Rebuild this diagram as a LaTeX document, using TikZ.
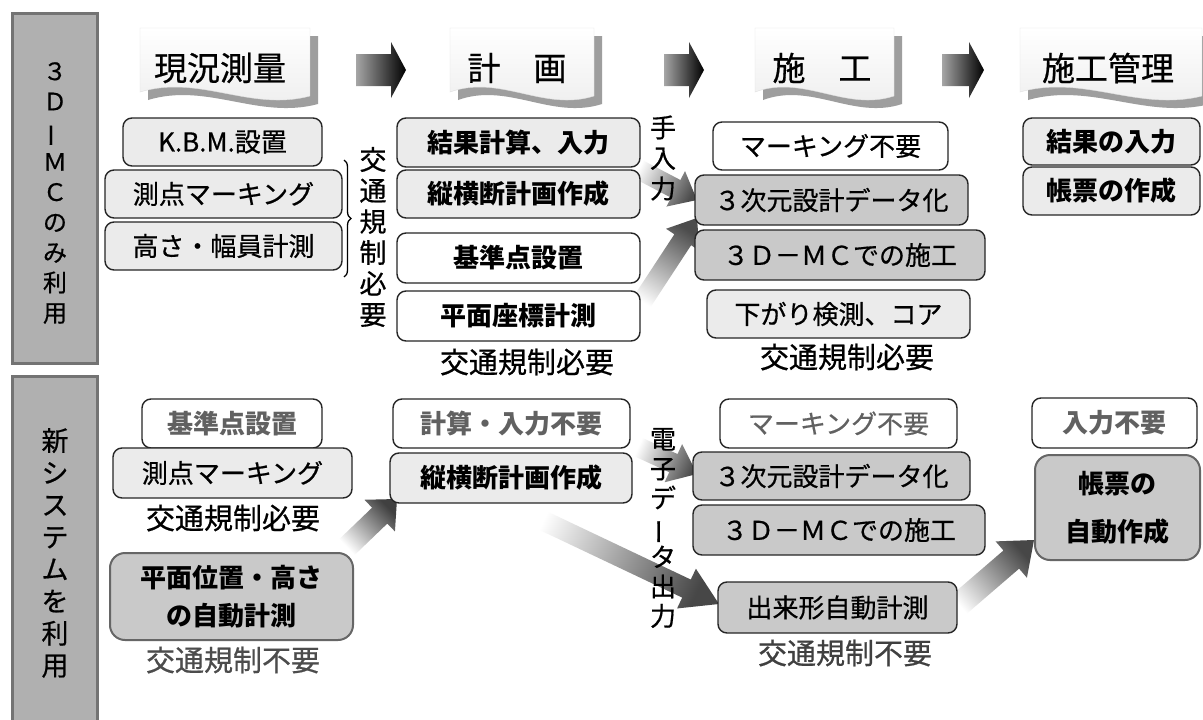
\documentclass[tikz,border=0pt]{standalone}
\usepackage{fontspec}
\setmainfont{Noto Sans CJK JP}[UprightFeatures={FakeBold=0.6}]
\usepackage{graphicx}
\usetikzlibrary{calc,decorations.pathreplacing}

\newcommand{\vbar}{\rotatebox[origin=c]{90}{ー}}
% gradient arrow: #1 start, #2 end, #3 half body, #4 half head, #5 head length, #6 shading angle, #7 start colour, #8 end colour
\newcommand{\garrow}[8]{%
  \coordinate (hb) at ($(#2)!#5!(#1)$);
  \path[left color=#7, right color=#8, shading angle=#6]
    ($(#1)!#3!90:(#2)$) -- ($(hb)!#3!90:(#2)$) -- ($(hb)!#4!90:(#2)$) -- (#2)
    -- ($(hb)!#4!-90:(#2)$) -- ($(hb)!#3!-90:(#2)$) -- ($(#1)!#3!-90:(#2)$) -- cycle;}
% banner: #1 left x, #2 right x (shadow edge)
\newcommand{\banner}[2]{%
  \pgfmathsetmacro{\bw}{#2-#1-8}
  \fill[black!38] ({#1+8},36) -- (#2,36) -- (#2,104)
     .. controls ({#2-0.35*\bw},120) and ({#1+8+0.35*\bw},82) .. ({#1+8},100) -- cycle;
  \path[top color=white, bottom color=black!7, draw=black!12]
     (#1,28) -- ({#2-8},28) -- ({#2-8},96)
     .. controls ({#2-8-0.35*\bw},112) and ({#1+0.35*\bw},74) .. (#1,92) -- cycle;}

\tikzset{
  box/.style={draw=black!85, line width=1.4pt, rounded corners=9pt, inner sep=0pt,
              align=center, font=\fontsize{26}{30}\selectfont},
  lbox/.style={box, fill=black!8},
  wbox/.style={box, fill=white},
  gbox/.style={box, fill=black!21},
  gtext/.style={text=black!62},
  lbl/.style={font=\fontsize{29}{31}\selectfont, inner sep=0pt},
  vtext/.style={align=center, inner sep=0pt},
  panel/.style={draw=black!55, fill=black!31, line width=3pt},
  hdr/.style={font=\fontsize{33}{34}\selectfont, inner sep=0pt},
}

\begin{document}
\begin{tikzpicture}[x=1pt,y=-1pt]
\useasboundingbox (0,0) rectangle (1203,720);
\fill[white] (0,0) rectangle (1203,720);

% side panels
\draw[panel] (12,13) rectangle (97,363);
\draw[panel] (12,376) rectangle (97,730);
\node[vtext, font=\fontsize{24}{30.2}\selectfont] (p1t) at (55,193)
  {３\\Ｄ\\\vbar\\Ｍ\\Ｃ\\の\\み\\利\\用};
\node[vtext, font=\fontsize{27}{32.1}\selectfont] (p2t) at (55,553)
  {新\\シ\\ス\\テ\\ム\\を\\利\\用};

% header banners
\banner{140}{318}
\banner{450}{602}
\banner{755}{902}
\banner{1020}{1210}
\node[hdr] (h1) at (220,68) {現況測量};
\node[hdr] (h2) at (517,68) {計　画};
\node[hdr] (h3) at (822,68) {施　工};
\node[hdr] (h4) at (1108,68) {施工管理};

% header arrows
\coordinate (ha1s) at (356,70); \coordinate (ha1e) at (406,70);
\coordinate (ha2s) at (664,70); \coordinate (ha2e) at (704,70);
\coordinate (ha3s) at (942,70); \coordinate (ha3e) at (984,70);
\garrow{ha1s}{ha1e}{16pt}{28pt}{15pt}{90}{black!35}{black}
\garrow{ha2s}{ha2e}{16pt}{28pt}{15pt}{90}{black!35}{black}
\garrow{ha3s}{ha3e}{16pt}{28pt}{15pt}{90}{black!35}{black}

% diagonal arrows
\coordinate (a1s) at (636,168); \coordinate (a1e) at (697,200);
\coordinate (a2s) at (638,308); \coordinate (a2e) at (697,218);
\coordinate (a3s) at (346,548); \coordinate (a3e) at (397,499);
\coordinate (a4s) at (636,446); \coordinate (a4e) at (697,474);
\coordinate (a5s) at (525,512); \coordinate (a5e) at (719,604);
\coordinate (a6s) at (955,608); \coordinate (a6e) at (1034,540);
\garrow{a1s}{a1e}{10pt}{20pt}{24pt}{62}{white}{black!70}
\garrow{a2s}{a2e}{10pt}{20pt}{26pt}{147}{white}{black!70}
\garrow{a3s}{a3e}{11pt}{22pt}{24pt}{134}{white}{black!75}
\garrow{a4s}{a4e}{10pt}{21pt}{26pt}{66}{white}{black!70}
\garrow{a5s}{a5e}{10pt}{22pt}{36pt}{65}{white}{black!72}
\garrow{a6s}{a6e}{12pt}{24pt}{30pt}{131}{white}{black!72}

% top row, column 1
\node[lbox, minimum width=199pt, minimum height=48pt] (kbm) at (222.5,142) {K.B.M.設置};
\node[lbox, minimum width=237pt, minimum height=48pt] (sok1) at (223.5,194) {測点マーキング};
\node[lbox, minimum width=237pt, minimum height=48pt] (tak) at (223.5,246) {高さ・幅員計測};
\coordinate (br1) at (344,160); \coordinate (br2) at (344,277);
\draw[decorate, decoration={brace, amplitude=7pt}, line width=1.3pt] (br1) -- (br2);
\node[vtext, font=\fontsize{27}{31}\selectfont] (kv1) at (373,237) {交\\通\\規\\制\\必\\要};

% top row, column 2
\node[lbox, minimum width=243pt, minimum height=49pt] (kek) at (518.5,142.5) {\bfseries 結果計算、入力};
\node[lbox, minimum width=243pt, minimum height=48pt] (jun1) at (518.5,194) {\bfseries 縦横断計画作成};
\node[wbox, minimum width=243pt, minimum height=50pt] (kij1) at (518.5,258) {\bfseries 基準点設置};
\node[wbox, minimum width=243pt, minimum height=50pt] (hei1) at (518.5,316) {\bfseries 平面座標計測};
\node[lbl] (kl2) at (527,362) {交通規制必要};
\node[vtext, font=\fontsize{26}{30.5}\selectfont] (te) at (663,158) {手\\入\\力};

% top row, column 3
\node[wbox, minimum width=235pt, minimum height=48pt] (mk1) at (830.5,146) {マーキング不要};
\node[gbox, minimum width=273pt, minimum height=50pt] (sj1) at (831.5,200) {３次元設計データ化};
\node[gbox, minimum width=290pt, minimum height=50pt] (mc1) at (840,255) {３Ｄ－ＭＣでの施工};
\node[lbox, minimum width=263pt, minimum height=48pt] (sag) at (838.5,314) {下がり検測、コア};
\node[lbl] (kl3) at (847,357) {交通規制必要};

% top row, column 4
\node[lbox, minimum width=177pt, minimum height=47pt] (kn) at (1111.5,141.5) {\bfseries 結果の入力};
\node[lbox, minimum width=177pt, minimum height=48pt] (ch1) at (1111.5,191) {\bfseries 帳票の作成};

% bottom row, column 1
\node[wbox, gtext, minimum width=180pt, minimum height=49pt] (kij2) at (232,423.5) {\bfseries 基準点設置};
\node[lbox, minimum width=239pt, minimum height=50pt] (sok2) at (232.5,473) {測点マーキング};
\node[lbl] (kl4) at (233,518) {交通規制必要};
\node[gbox, draw=black!60, line width=2pt, rounded corners=15pt, minimum width=243pt, minimum height=87pt,
      font=\fontsize{26}{38}\selectfont\bfseries] (hei2) at (231.5,596.5) {平面位置・高さ\\の自動計測};
\node[lbl, text=black!70] (kf1) at (233,660) {交通規制不要};

% bottom row, column 2
\node[wbox, gtext, minimum width=237pt, minimum height=49pt] (kei) at (511.5,423.5) {\bfseries 計算・入力不要};
\node[lbox, minimum width=242pt, minimum height=50pt] (jun2) at (511,478) {\bfseries 縦横断計画作成};
\node[vtext, font=\fontsize{26}{29.5}\selectfont] (den) at (663,528) {電\\子\\デ\\\vbar\\タ\\出\\力};

% bottom row, column 3
\node[wbox, gtext, minimum width=237pt, minimum height=49pt] (mk2) at (838.5,423.5) {マーキング不要};
\node[gbox, minimum width=277pt, minimum height=48pt] (sj2) at (831.5,476) {３次元設計データ化};
\node[gbox, minimum width=292pt, minimum height=50pt] (mc2) at (839,530) {３Ｄ－ＭＣでの施工};
\node[gbox, minimum width=239pt, minimum height=51pt] (dek) at (837.5,607.5) {出来形自動計測};
\node[lbl, text=black!75] (kf2) at (845,653) {交通規制不要};

% bottom row, column 4
\node[wbox, gtext, minimum width=165pt, minimum height=50pt] (nyu) at (1114.5,423) {\bfseries 入力不要};
\node[gbox, draw=black!60, line width=2pt, rounded corners=15pt, minimum width=165pt, minimum height=105pt,
      font=\fontsize{26}{48}\selectfont\bfseries] (ch2) at (1117.5,507.5) {帳票の\\自動作成};
\end{tikzpicture}
\end{document}
